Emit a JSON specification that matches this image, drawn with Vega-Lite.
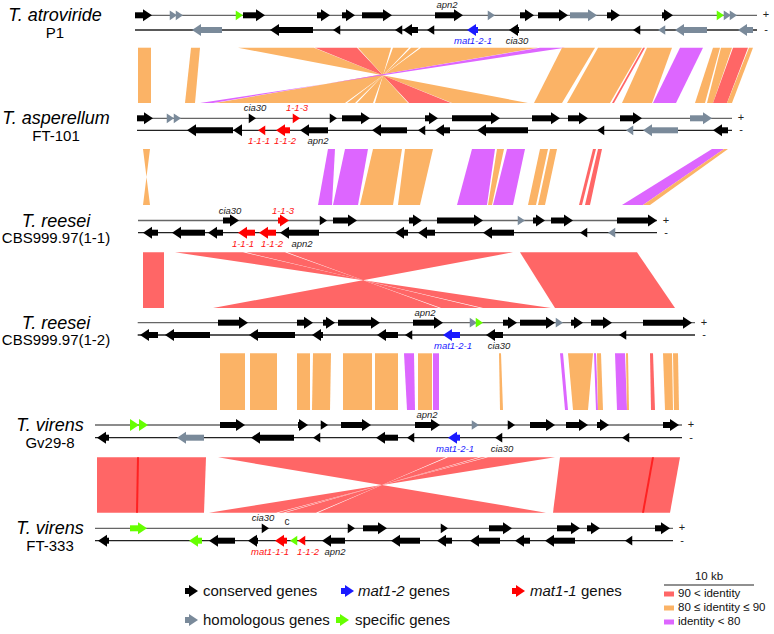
{
"$schema": "https://vega.github.io/schema/vega-lite/v6.json",
"width": 774, "height": 634,
"autosize": {"type": "fit", "contains": "padding"},
"padding": 0,
"background": "white",
"config": {"view": {"stroke": null}, "font": "Liberation Sans"},
"resolve": {"scale": {"color": "independent"}},
"datasets": {
"tracks": [
{"k":"1+","y":15.3,"sign":"+"},{"k":"1-","y":30,"sign":"-"},
{"k":"2+","y":118.3,"sign":"+"},{"k":"2-","y":130.3,"sign":"-"},
{"k":"3+","y":220.5,"sign":"+"},{"k":"3-","y":232.7,"sign":"-"},
{"k":"4+","y":322.7,"sign":"+"},{"k":"4-","y":335,"sign":"-"},
{"k":"5+","y":425,"sign":"+"},{"k":"5-","y":437.7,"sign":"-"},
{"k":"6+","y":528.3,"sign":"+"},{"k":"6-","y":540.7,"sign":"-"},
{"k":"L1","y":591},{"k":"L2","y":620},
{"k":"1t","y":47.7},{"k":"1b","y":103},
{"k":"2t","y":149},{"k":"2b","y":205},
{"k":"3t","y":252.3},{"k":"3b","y":308},
{"k":"4t","y":353.3},{"k":"4b","y":410},
{"k":"5t","y":457.3},{"k":"5b","y":512.7},
{"k":"I0","y":577},{"k":"SB","y":585},{"k":"I1","y":594},{"k":"I2","y":608},{"k":"I3","y":622}
],
"genomes": [
{"name":"T. atroviride","strain":"P1","nx":55,"kp":"1+","km":"1-","x0":135,"x1":757},
{"name":"T. asperellum","strain":"FT-101","nx":56,"kp":"2+","km":"2-","x0":137,"x1":732},
{"name":"T. reesei","strain":"CBS999.97(1-1)","nx":56,"kp":"3+","km":"3-","x0":138,"x1":657},
{"name":"T. reesei","strain":"CBS999.97(1-2)","nx":56,"kp":"4+","km":"4-","x0":137.7,"x1":695},
{"name":"T. virens","strain":"Gv29-8","nx":50,"kp":"5+","km":"5-","x0":95,"x1":682},
{"name":"T. virens","strain":"FT-333","nx":50,"kp":"6+","km":"6-","x0":95,"x1":673}
],
"genes": [
{"k":"1+","s":135,"e":152,"t":"c"},{"k":"1+","s":172,"e":177,"t":"h"},{"k":"1+","s":178,"e":183,"t":"h"},{"k":"1+","s":237,"e":243,"t":"s"},{"k":"1+","s":243,"e":265,"t":"c"},{"k":"1+","s":317,"e":330,"t":"c"},{"k":"1+","s":342,"e":355,"t":"c"},{"k":"1+","s":362,"e":392,"t":"c"},{"k":"1+","s":435,"e":463,"t":"c"},{"k":"1+","s":489,"e":495,"t":"h"},{"k":"1+","s":520,"e":534,"t":"c"},{"k":"1+","s":538,"e":568,"t":"c"},{"k":"1+","s":570,"e":597,"t":"h"},{"k":"1+","s":607,"e":620,"t":"c"},{"k":"1+","s":662,"e":673,"t":"c"},{"k":"1+","s":719,"e":724,"t":"s"},{"k":"1+","s":726,"e":731,"t":"h"},{"k":"1+","s":732,"e":737,"t":"h"},
{"k":"1-","s":192,"e":222,"t":"h"},{"k":"1-","s":270,"e":313,"t":"c"},{"k":"1-","s":333,"e":339,"t":"c"},{"k":"1-","s":395,"e":401,"t":"c"},{"k":"1-","s":403,"e":418,"t":"c"},{"k":"1-","s":427,"e":433,"t":"c"},{"k":"1-","s":467,"e":478,"t":"b"},{"k":"1-","s":509,"e":519,"t":"c"},{"k":"1-","s":633,"e":639,"t":"c"},{"k":"1-","s":658,"e":663,"t":"h"},{"k":"1-","s":675,"e":707,"t":"h"},{"k":"1-","s":738,"e":753,"t":"h"},
{"k":"2+","s":137,"e":153,"t":"c"},{"k":"2+","s":168,"e":174,"t":"h"},{"k":"2+","s":175,"e":181,"t":"h"},{"k":"2+","s":251,"e":256,"t":"c"},{"k":"2+","s":292,"e":300,"t":"m"},{"k":"2+","s":330,"e":337,"t":"c"},{"k":"2+","s":342,"e":370,"t":"c"},{"k":"2+","s":425,"e":438,"t":"c"},{"k":"2+","s":452,"e":500,"t":"c"},{"k":"2+","s":532,"e":560,"t":"c"},{"k":"2+","s":568,"e":588,"t":"c"},{"k":"2+","s":620,"e":642,"t":"c"},{"k":"2+","s":690,"e":712,"t":"h"},
{"k":"2-","s":187,"e":233,"t":"c"},{"k":"2-","s":233,"e":242,"t":"c"},{"k":"2-","s":258,"e":266,"t":"m"},{"k":"2-","s":276,"e":290,"t":"m"},{"k":"2-","s":300,"e":328,"t":"c"},{"k":"2-","s":372,"e":407,"t":"c"},{"k":"2-","s":418,"e":423,"t":"c"},{"k":"2-","s":435,"e":450,"t":"c"},{"k":"2-","s":477,"e":528,"t":"c"},{"k":"2-","s":597,"e":602,"t":"c"},{"k":"2-","s":626,"e":630,"t":"h"},{"k":"2-","s":643,"e":678,"t":"h"},{"k":"2-","s":713,"e":728,"t":"c"},
{"k":"3+","s":223,"e":239,"t":"c"},{"k":"3+","s":278,"e":289,"t":"m"},{"k":"3+","s":320,"e":327,"t":"c"},{"k":"3+","s":333,"e":357,"t":"c"},{"k":"3+","s":409,"e":422,"t":"c"},{"k":"3+","s":437,"e":483,"t":"c"},{"k":"3+","s":521,"e":525,"t":"h"},{"k":"3+","s":533,"e":545,"t":"c"},{"k":"3+","s":551,"e":573,"t":"c"},{"k":"3+","s":617,"e":657,"t":"c"},
{"k":"3-","s":143,"e":158,"t":"c"},{"k":"3-","s":172,"e":205,"t":"c"},{"k":"3-","s":208,"e":223,"t":"c"},{"k":"3-","s":238,"e":255,"t":"m"},{"k":"3-","s":259,"e":276,"t":"m"},{"k":"3-","s":280,"e":319,"t":"c"},{"k":"3-","s":395,"e":408,"t":"c"},{"k":"3-","s":418,"e":435,"t":"c"},{"k":"3-","s":483,"e":514,"t":"c"},{"k":"3-","s":580,"e":587,"t":"c"},{"k":"3-","s":608,"e":612,"t":"h"},
{"k":"4+","s":218,"e":248,"t":"c"},{"k":"4+","s":297,"e":313,"t":"c"},{"k":"4+","s":323,"e":335,"t":"c"},{"k":"4+","s":338,"e":380,"t":"c"},{"k":"4+","s":413,"e":443,"t":"c"},{"k":"4+","s":470,"e":477,"t":"h"},{"k":"4+","s":479,"e":483,"t":"s"},{"k":"4+","s":503,"e":517,"t":"c"},{"k":"4+","s":520,"e":555,"t":"c"},{"k":"4+","s":558,"e":563,"t":"h"},{"k":"4+","s":571,"e":583,"t":"c"},{"k":"4+","s":591,"e":612,"t":"c"},{"k":"4+","s":643,"e":692,"t":"c"},
{"k":"4-","s":140,"e":158,"t":"c"},{"k":"4-","s":165,"e":210,"t":"c"},{"k":"4-","s":249,"e":295,"t":"c"},{"k":"4-","s":312,"e":323,"t":"c"},{"k":"4-","s":377,"e":398,"t":"c"},{"k":"4-","s":405,"e":412,"t":"c"},{"k":"4-","s":443,"e":460,"t":"b"},{"k":"4-","s":486,"e":503,"t":"c"},{"k":"4-","s":619,"e":626,"t":"c"},
{"k":"5+","s":130,"e":139,"t":"s"},{"k":"5+","s":139,"e":148,"t":"s"},{"k":"5+","s":220,"e":245,"t":"c"},{"k":"5+","s":298,"e":308,"t":"c"},{"k":"5+","s":321,"e":328,"t":"c"},{"k":"5+","s":341,"e":371,"t":"c"},{"k":"5+","s":415,"e":440,"t":"c"},{"k":"5+","s":472,"e":479,"t":"h"},{"k":"5+","s":507,"e":515,"t":"c"},{"k":"5+","s":530,"e":555,"t":"c"},{"k":"5+","s":566,"e":588,"t":"c"},{"k":"5+","s":597,"e":609,"t":"c"},{"k":"5+","s":663,"e":679,"t":"c"},
{"k":"5-","s":97,"e":109,"t":"c"},{"k":"5-","s":177,"e":204,"t":"h"},{"k":"5-","s":251,"e":294,"t":"c"},{"k":"5-","s":313,"e":319,"t":"c"},{"k":"5-","s":376,"e":398,"t":"c"},{"k":"5-","s":407,"e":413,"t":"c"},{"k":"5-","s":448,"e":460,"t":"b"},{"k":"5-","s":495,"e":502,"t":"c"},{"k":"5-","s":622,"e":628,"t":"c"},
{"k":"6+","s":130,"e":147,"t":"s"},{"k":"6+","s":263,"e":269,"t":"c"},{"k":"6+","s":348,"e":355,"t":"c"},{"k":"6+","s":363,"e":387,"t":"c"},{"k":"6+","s":442,"e":448,"t":"c"},{"k":"6+","s":489,"e":512,"t":"c"},{"k":"6+","s":557,"e":580,"t":"c"},{"k":"6+","s":587,"e":600,"t":"c"},{"k":"6+","s":655,"e":670,"t":"c"},
{"k":"6-","s":98,"e":109,"t":"c"},{"k":"6-","s":189,"e":202,"t":"s"},{"k":"6-","s":209,"e":235,"t":"c"},{"k":"6-","s":248,"e":258,"t":"c"},{"k":"6-","s":275,"e":287,"t":"m"},{"k":"6-","s":290,"e":296,"t":"s"},{"k":"6-","s":298,"e":304,"t":"m"},{"k":"6-","s":322,"e":345,"t":"c"},{"k":"6-","s":391,"e":420,"t":"c"},{"k":"6-","s":437,"e":452,"t":"c"},{"k":"6-","s":470,"e":500,"t":"c"},{"k":"6-","s":515,"e":530,"t":"c"},{"k":"6-","s":545,"e":575,"t":"c"},{"k":"6-","s":625,"e":631,"t":"c"},
{"k":"L1","s":185,"e":198,"t":"c"},{"k":"L1","s":341,"e":354,"t":"b"},{"k":"L1","s":512,"e":525,"t":"m"},
{"k":"L2","s":185,"e":198,"t":"h"},{"k":"L2","s":336,"e":349,"t":"s"}
],
"labels": [
{"k":"1+","x":447,"text":"apn2","t":"c"},
{"k":"1-","x":473,"text":"mat1-2-1","t":"b"},{"k":"1-","x":517,"text":"cia30","t":"c"},
{"k":"2+","x":255,"text":"cia30","t":"c"},{"k":"2+","x":297,"text":"1-1-3","t":"m"},
{"k":"2-","x":259,"text":"1-1-1","t":"m"},{"k":"2-","x":285,"text":"1-1-2","t":"m"},{"k":"2-","x":318,"text":"apn2","t":"c"},
{"k":"3+","x":230,"text":"cia30","t":"c"},{"k":"3+","x":283,"text":"1-1-3","t":"m"},
{"k":"3-","x":243,"text":"1-1-1","t":"m"},{"k":"3-","x":272,"text":"1-1-2","t":"m"},{"k":"3-","x":302,"text":"apn2","t":"c"},
{"k":"4+","x":425,"text":"apn2","t":"c"},
{"k":"4-","x":453,"text":"mat1-2-1","t":"b"},{"k":"4-","x":499,"text":"cia30","t":"c"},
{"k":"5+","x":427,"text":"apn2","t":"c"},
{"k":"5-","x":455,"text":"mat1-2-1","t":"b"},{"k":"5-","x":502,"text":"cia30","t":"c"},
{"k":"6+","x":263,"text":"cia30","t":"c"},
{"k":"6-","x":270,"text":"mat1-1-1","t":"m"},{"k":"6-","x":308,"text":"1-1-2","t":"m"},{"k":"6-","x":335,"text":"apn2","t":"c"}
],
"plain": [
{"k":"6+","x":287,"text":"c"}
],
"syn": [
{"p":"a1","k":"1t","x":138,"x2":151,"c":"o"},{"p":"a1","k":"1b","x":138,"x2":151,"c":"o"},
{"p":"a2","k":"1t","x":191,"x2":200,"c":"o"},{"p":"a2","k":"1b","x":185,"x2":195,"c":"o"},
{"p":"a3","k":"1t","x":238,"x2":314,"c":"o"},{"p":"a3","k":"1b","x":528,"x2":452,"c":"o"},
{"p":"a4","k":"1t","x":315,"x2":357,"c":"r"},{"p":"a4","k":"1b","x":451,"x2":409,"c":"r"},
{"p":"a5","k":"1t","x":358,"x2":391,"c":"o"},{"p":"a5","k":"1b","x":408,"x2":375,"c":"o"},
{"p":"a6","k":"1t","x":393,"x2":409,"c":"o"},{"p":"a6","k":"1b","x":373,"x2":357,"c":"o"},
{"p":"a7","k":"1t","x":411,"x2":419,"c":"o"},{"p":"a7","k":"1b","x":355,"x2":347,"c":"o"},
{"p":"a8","k":"1t","x":421,"x2":538,"c":"o"},{"p":"a8","k":"1b","x":345,"x2":215,"c":"o"},
{"p":"a9","k":"1t","x":540,"x2":565,"c":"p"},{"p":"a9","k":"1b","x":213,"x2":200,"c":"p"},
{"p":"a10","k":"1t","x":562,"x2":595,"c":"o"},{"p":"a10","k":"1b","x":534,"x2":562,"c":"o"},
{"p":"a11","k":"1t","x":598,"x2":642,"c":"o"},{"p":"a11","k":"1b","x":567,"x2":610,"c":"o"},
{"p":"a12","k":"1t","x":643,"x2":645,"c":"r"},{"p":"a12","k":"1b","x":612,"x2":614,"c":"r"},
{"p":"a13","k":"1t","x":647,"x2":672,"c":"o"},{"p":"a13","k":"1b","x":622,"x2":652,"c":"o"},
{"p":"a14","k":"1t","x":680,"x2":703,"c":"p"},{"p":"a14","k":"1b","x":653,"x2":676,"c":"p"},
{"p":"a15","k":"1t","x":713,"x2":720,"c":"o"},{"p":"a15","k":"1b","x":695,"x2":705,"c":"o"},
{"p":"a16","k":"1t","x":721,"x2":732,"c":"o"},{"p":"a16","k":"1b","x":707,"x2":713,"c":"o"},
{"p":"a17","k":"1t","x":733,"x2":748,"c":"r"},{"p":"a17","k":"1b","x":713,"x2":727,"c":"r"},
{"p":"a18","k":"1t","x":749,"x2":753,"c":"o"},{"p":"a18","k":"1b","x":727,"x2":732,"c":"o"},
{"p":"b1","k":"2t","x":143,"x2":150,"c":"o"},{"p":"b1","k":"2b","x":150,"x2":143,"c":"o"},
{"p":"b2","k":"2t","x":328,"x2":335,"c":"p"},{"p":"b2","k":"2b","x":318,"x2":332,"c":"p"},
{"p":"b3","k":"2t","x":345,"x2":368,"c":"p"},{"p":"b3","k":"2b","x":333,"x2":358,"c":"p"},
{"p":"b4","k":"2t","x":373,"x2":402,"c":"o"},{"p":"b4","k":"2b","x":360,"x2":393,"c":"o"},
{"p":"b5","k":"2t","x":405,"x2":433,"c":"o"},{"p":"b5","k":"2b","x":398,"x2":420,"c":"o"},
{"p":"b6","k":"2t","x":472,"x2":495,"c":"p"},{"p":"b6","k":"2b","x":457,"x2":487,"c":"p"},
{"p":"b7","k":"2t","x":497,"x2":504,"c":"o"},{"p":"b7","k":"2b","x":488,"x2":492,"c":"o"},
{"p":"b8","k":"2t","x":507,"x2":525,"c":"p"},{"p":"b8","k":"2b","x":493,"x2":513,"c":"p"},
{"p":"b9","k":"2t","x":540,"x2":548,"c":"o"},{"p":"b9","k":"2b","x":528,"x2":536,"c":"o"},
{"p":"b10","k":"2t","x":550,"x2":557,"c":"o"},{"p":"b10","k":"2b","x":538,"x2":545,"c":"o"},
{"p":"b11","k":"2t","x":593,"x2":596,"c":"r"},{"p":"b11","k":"2b","x":579,"x2":582,"c":"r"},
{"p":"b12","k":"2t","x":598,"x2":602,"c":"r"},{"p":"b12","k":"2b","x":585,"x2":590,"c":"r"},
{"p":"b13","k":"2t","x":712,"x2":724,"c":"p"},{"p":"b13","k":"2b","x":622,"x2":643,"c":"p"},
{"p":"b14","k":"2t","x":724,"x2":728,"c":"o"},{"p":"b14","k":"2b","x":643,"x2":650,"c":"o"},
{"p":"c1","k":"3t","x":143,"x2":164,"c":"r"},{"p":"c1","k":"3b","x":143,"x2":164,"c":"r"},
{"p":"c2","k":"3t","x":175,"x2":243,"c":"r"},{"p":"c2","k":"3b","x":551,"x2":483,"c":"r"},
{"p":"c3","k":"3t","x":246,"x2":285,"c":"r"},{"p":"c3","k":"3b","x":480,"x2":441,"c":"r"},
{"p":"c4","k":"3t","x":287,"x2":513,"c":"r"},{"p":"c4","k":"3b","x":439,"x2":213,"c":"r"},
{"p":"c5","k":"3t","x":520,"x2":637,"c":"r"},{"p":"c5","k":"3b","x":555,"x2":675,"c":"r"},
{"p":"d1","k":"4t","x":220,"x2":245,"c":"o"},{"p":"d1","k":"4b","x":220,"x2":245,"c":"o"},
{"p":"d2","k":"4t","x":250,"x2":277,"c":"o"},{"p":"d2","k":"4b","x":250,"x2":277,"c":"o"},
{"p":"d3","k":"4t","x":297,"x2":310,"c":"o"},{"p":"d3","k":"4b","x":297,"x2":310,"c":"o"},
{"p":"d4","k":"4t","x":313,"x2":331,"c":"o"},{"p":"d4","k":"4b","x":312,"x2":330,"c":"o"},
{"p":"d5","k":"4t","x":343,"x2":372,"c":"o"},{"p":"d5","k":"4b","x":343,"x2":372,"c":"o"},
{"p":"d6","k":"4t","x":375,"x2":398,"c":"o"},{"p":"d6","k":"4b","x":375,"x2":398,"c":"o"},
{"p":"d7","k":"4t","x":404,"x2":414,"c":"p"},{"p":"d7","k":"4b","x":407,"x2":415,"c":"p"},
{"p":"d8","k":"4t","x":418,"x2":432,"c":"o"},{"p":"d8","k":"4b","x":418,"x2":432,"c":"o"},
{"p":"d9","k":"4t","x":433,"x2":439,"c":"p"},{"p":"d9","k":"4b","x":433,"x2":439,"c":"p"},
{"p":"d10","k":"4t","x":499,"x2":501,"c":"o"},{"p":"d10","k":"4b","x":500,"x2":503,"c":"o"},
{"p":"d11","k":"4t","x":560,"x2":563,"c":"p"},{"p":"d11","k":"4b","x":565,"x2":568,"c":"p"},
{"p":"d12","k":"4t","x":568,"x2":593,"c":"o"},{"p":"d12","k":"4b","x":573,"x2":588,"c":"o"},
{"p":"d13","k":"4t","x":594,"x2":596,"c":"p"},{"p":"d13","k":"4b","x":596,"x2":598,"c":"p"},
{"p":"d14","k":"4t","x":597,"x2":601,"c":"o"},{"p":"d14","k":"4b","x":598,"x2":603,"c":"o"},
{"p":"d15","k":"4t","x":615,"x2":625,"c":"p"},{"p":"d15","k":"4b","x":617,"x2":627,"c":"p"},
{"p":"d16","k":"4t","x":626,"x2":628,"c":"o"},{"p":"d16","k":"4b","x":627,"x2":629,"c":"o"},
{"p":"d17","k":"4t","x":650,"x2":653,"c":"r"},{"p":"d17","k":"4b","x":651,"x2":655,"c":"r"},
{"p":"d18","k":"4t","x":663,"x2":672,"c":"o"},{"p":"d18","k":"4b","x":665,"x2":673,"c":"o"},
{"p":"d19","k":"4t","x":673,"x2":678,"c":"o"},{"p":"d19","k":"4b","x":674,"x2":679,"c":"o"},
{"p":"e1","k":"5t","x":97,"x2":206,"c":"r"},{"p":"e1","k":"5b","x":97,"x2":204,"c":"r"},
{"p":"e2","k":"5t","x":137,"x2":139,"c":"d"},{"p":"e2","k":"5b","x":136,"x2":138,"c":"d"},
{"p":"e3","k":"5t","x":218,"x2":446,"c":"r"},{"p":"e3","k":"5b","x":546,"x2":318,"c":"r"},
{"p":"e4","k":"5t","x":448,"x2":479,"c":"r"},{"p":"e4","k":"5b","x":316,"x2":285,"c":"r"},
{"p":"e5","k":"5t","x":481,"x2":486,"c":"r"},{"p":"e5","k":"5b","x":283,"x2":278,"c":"r"},
{"p":"e6","k":"5t","x":488,"x2":555,"c":"r"},{"p":"e6","k":"5b","x":276,"x2":209,"c":"r"},
{"p":"e7","k":"5t","x":560,"x2":680,"c":"r"},{"p":"e7","k":"5b","x":553,"x2":670,"c":"r"},
{"p":"e8","k":"5t","x":652,"x2":654,"c":"d"},{"p":"e8","k":"5b","x":642,"x2":644,"c":"d"}
],
"legtext": [
{"k":"L1","x":203,"text":"conserved genes","it":false},
{"k":"L1","x":358,"text":"mat1-2","it":true},
{"k":"L1","x":409,"text":"genes","it":false},
{"k":"L1","x":530,"text":"mat1-1","it":true},
{"k":"L1","x":581,"text":"genes","it":false},
{"k":"L2","x":203,"text":"homologous genes","it":false},
{"k":"L2","x":355,"text":"specific genes","it":false}
],
"idleg": [
{"k":"I1","c":"r","label":"90 < identity","x0":664,"x1":674},
{"k":"I2","c":"o","label":"80 ≤ identity ≤ 90","x0":664,"x1":674},
{"k":"I3","c":"p","label":"identity < 80","x0":664,"x1":674}
],
"scalebar": [
{"k":"SB","kt":"I0","x0":664,"x1":754,"xm":709,"label":"10 kb"}
]
},
"layer": [
{
"data": {"name": "syn"},
"transform": [{"lookup": "k", "from": {"data": {"name": "tracks"}, "key": "k", "fields": ["y"]}}],
"mark": {"type": "area", "orient": "horizontal", "opacity": 1},
"encoding": {
"y": {"field": "y", "type": "quantitative", "scale": {"domain": [0, 634], "nice": false, "zero": false, "reverse": true}, "axis": null},
"x": {"field": "x", "type": "quantitative", "stack": null, "scale": {"domain": [0, 774], "nice": false, "zero": false}, "axis": null},
"x2": {"field": "x2"},
"color": {"field": "c", "type": "nominal", "scale": {"domain": ["r", "o", "p", "d"], "range": ["#ff6666", "#fbb366", "#dd66ff", "#ff2222"]}, "legend": null},
"detail": {"field": "p", "type": "nominal"}
}
},
{
"data": {"name": "genomes"},
"transform": [{"fold": ["kp", "km"], "as": ["which", "k"]}, {"lookup": "k", "from": {"data": {"name": "tracks"}, "key": "k", "fields": ["y", "sign"]}}],
"mark": {"type": "rule", "strokeWidth": 1.3},
"encoding": {
"x": {"field": "x0", "type": "quantitative", "scale": {"domain": [0, 774], "nice": false, "zero": false}, "axis": null},
"x2": {"field": "x1"},
"y": {"field": "y", "type": "quantitative", "scale": {"domain": [0, 634], "nice": false, "zero": false, "reverse": true}, "axis": null},
"color": {"condition": {"test": "datum.which == 'kp'", "value": "#666666"}, "value": "#222222"}
}
},
{
"data": {"name": "genomes"},
"transform": [{"fold": ["kp", "km"], "as": ["which", "k"]}, {"lookup": "k", "from": {"data": {"name": "tracks"}, "key": "k", "fields": ["y", "sign"]}}],
"mark": {"type": "text", "dx": 9, "fontSize": 11, "align": "center", "baseline": "middle", "color": "#222222"},
"encoding": {
"x": {"field": "x1", "type": "quantitative", "scale": {"domain": [0, 774], "nice": false, "zero": false}, "axis": null},
"y": {"field": "y", "type": "quantitative", "scale": {"domain": [0, 634], "nice": false, "zero": false, "reverse": true}, "axis": null},
"text": {"field": "sign"}
}
},
{
"data": {"name": "genes"},
"transform": [{"lookup": "k", "from": {"data": {"name": "tracks"}, "key": "k", "fields": ["y"]}}, {"filter": "datum.k[1] != '-' && datum.e - datum.s > 9"}],
"mark": {"type": "rule", "strokeWidth": 6, "strokeCap": "butt", "x2Offset": -8},
"encoding": {
"x": {"field": "s", "type": "quantitative", "scale": {"domain": [0, 774], "nice": false, "zero": false}, "axis": null},
"x2": {"field": "e"},
"y": {"field": "y", "type": "quantitative", "scale": {"domain": [0, 634], "nice": false, "zero": false, "reverse": true}, "axis": null},
"color": {"field": "t", "type": "nominal", "scale": {"domain": ["c", "b", "m", "h", "s"], "range": ["#000000", "#1a1aff", "#ff0000", "#7a8a9a", "#66ff00"]}, "legend": null}
}
},
{
"data": {"name": "genes"},
"transform": [{"lookup": "k", "from": {"data": {"name": "tracks"}, "key": "k", "fields": ["y"]}}, {"filter": "datum.k[1] == '-' && datum.e - datum.s > 9"}],
"mark": {"type": "rule", "strokeWidth": 6, "strokeCap": "butt", "xOffset": 8},
"encoding": {
"x": {"field": "s", "type": "quantitative", "scale": {"domain": [0, 774], "nice": false, "zero": false}, "axis": null},
"x2": {"field": "e"},
"y": {"field": "y", "type": "quantitative", "scale": {"domain": [0, 634], "nice": false, "zero": false, "reverse": true}, "axis": null},
"color": {"field": "t", "type": "nominal", "scale": {"domain": ["c", "b", "m", "h", "s"], "range": ["#000000", "#1a1aff", "#ff0000", "#7a8a9a", "#66ff00"]}, "legend": null}
}
},
{
"data": {"name": "genes"},
"transform": [{"lookup": "k", "from": {"data": {"name": "tracks"}, "key": "k", "fields": ["y"]}}, {"filter": "datum.k[1] != '-'"}],
"mark": {"type": "point", "shape": "M-9,-6L0,0L-9,6Z", "filled": true, "opacity": 1, "strokeWidth": 0},
"encoding": {
"x": {"field": "e", "type": "quantitative", "scale": {"domain": [0, 774], "nice": false, "zero": false}, "axis": null},
"y": {"field": "y", "type": "quantitative", "scale": {"domain": [0, 634], "nice": false, "zero": false, "reverse": true}, "axis": null},
"size": {"condition": {"test": "datum.e - datum.s < 9", "value": 2.6}, "value": 4},
"color": {"field": "t", "type": "nominal", "scale": {"domain": ["c", "b", "m", "h", "s"], "range": ["#000000", "#1a1aff", "#ff0000", "#7a8a9a", "#66ff00"]}, "legend": null}
}
},
{
"data": {"name": "genes"},
"transform": [{"lookup": "k", "from": {"data": {"name": "tracks"}, "key": "k", "fields": ["y"]}}, {"filter": "datum.k[1] == '-'"}],
"mark": {"type": "point", "shape": "M9,-6L0,0L9,6Z", "filled": true, "opacity": 1, "strokeWidth": 0},
"encoding": {
"x": {"field": "s", "type": "quantitative", "scale": {"domain": [0, 774], "nice": false, "zero": false}, "axis": null},
"y": {"field": "y", "type": "quantitative", "scale": {"domain": [0, 634], "nice": false, "zero": false, "reverse": true}, "axis": null},
"size": {"condition": {"test": "datum.e - datum.s < 9", "value": 2.6}, "value": 4},
"color": {"field": "t", "type": "nominal", "scale": {"domain": ["c", "b", "m", "h", "s"], "range": ["#000000", "#1a1aff", "#ff0000", "#7a8a9a", "#66ff00"]}, "legend": null}
}
},
{
"data": {"name": "genomes"},
"transform": [{"lookup": "kp", "from": {"data": {"name": "tracks"}, "key": "k", "fields": ["y"]}}],
"mark": {"type": "text", "fontSize": 18, "fontStyle": "italic", "align": "center", "baseline": "middle", "dy": 1, "color": "#000000"},
"encoding": {
"x": {"field": "nx", "type": "quantitative", "scale": {"domain": [0, 774], "nice": false, "zero": false}, "axis": null},
"y": {"field": "y", "type": "quantitative", "scale": {"domain": [0, 634], "nice": false, "zero": false, "reverse": true}, "axis": null},
"text": {"field": "name"}
}
},
{
"data": {"name": "genomes"},
"transform": [{"lookup": "kp", "from": {"data": {"name": "tracks"}, "key": "k", "fields": ["y"]}}],
"mark": {"type": "text", "fontSize": 15, "align": "center", "baseline": "middle", "dy": 17.5, "color": "#000000"},
"encoding": {
"x": {"field": "nx", "type": "quantitative", "scale": {"domain": [0, 774], "nice": false, "zero": false}, "axis": null},
"y": {"field": "y", "type": "quantitative", "scale": {"domain": [0, 634], "nice": false, "zero": false, "reverse": true}, "axis": null},
"text": {"field": "strain"}
}
},
{
"data": {"name": "labels"},
"transform": [{"lookup": "k", "from": {"data": {"name": "tracks"}, "key": "k", "fields": ["y"]}}, {"filter": "datum.k[1] == '+'"}],
"mark": {"type": "text", "fontSize": 9.5, "fontStyle": "italic", "align": "center", "baseline": "middle", "dy": -10},
"encoding": {
"x": {"field": "x", "type": "quantitative", "scale": {"domain": [0, 774], "nice": false, "zero": false}, "axis": null},
"y": {"field": "y", "type": "quantitative", "scale": {"domain": [0, 634], "nice": false, "zero": false, "reverse": true}, "axis": null},
"text": {"field": "text"},
"color": {"field": "t", "type": "nominal", "scale": {"domain": ["c", "b", "m"], "range": ["#222222", "#1a1aff", "#ff1111"]}, "legend": null}
}
},
{
"data": {"name": "labels"},
"transform": [{"lookup": "k", "from": {"data": {"name": "tracks"}, "key": "k", "fields": ["y"]}}, {"filter": "datum.k[1] == '-'"}],
"mark": {"type": "text", "fontSize": 9.5, "fontStyle": "italic", "align": "center", "baseline": "middle", "dy": 11},
"encoding": {
"x": {"field": "x", "type": "quantitative", "scale": {"domain": [0, 774], "nice": false, "zero": false}, "axis": null},
"y": {"field": "y", "type": "quantitative", "scale": {"domain": [0, 634], "nice": false, "zero": false, "reverse": true}, "axis": null},
"text": {"field": "text"},
"color": {"field": "t", "type": "nominal", "scale": {"domain": ["c", "b", "m"], "range": ["#222222", "#1a1aff", "#ff1111"]}, "legend": null}
}
},
{
"data": {"name": "plain"},
"transform": [{"lookup": "k", "from": {"data": {"name": "tracks"}, "key": "k", "fields": ["y"]}}],
"mark": {"type": "text", "fontSize": 10, "align": "center", "baseline": "middle", "dy": -6, "color": "#222222"},
"encoding": {
"x": {"field": "x", "type": "quantitative", "scale": {"domain": [0, 774], "nice": false, "zero": false}, "axis": null},
"y": {"field": "y", "type": "quantitative", "scale": {"domain": [0, 634], "nice": false, "zero": false, "reverse": true}, "axis": null},
"text": {"field": "text"}
}
},
{
"data": {"name": "legtext"},
"transform": [{"lookup": "k", "from": {"data": {"name": "tracks"}, "key": "k", "fields": ["y"]}}, {"filter": "!datum.it"}],
"mark": {"type": "text", "fontSize": 15, "align": "left", "baseline": "middle", "color": "#111111"},
"encoding": {
"x": {"field": "x", "type": "quantitative", "scale": {"domain": [0, 774], "nice": false, "zero": false}, "axis": null},
"y": {"field": "y", "type": "quantitative", "scale": {"domain": [0, 634], "nice": false, "zero": false, "reverse": true}, "axis": null},
"text": {"field": "text"}
}
},
{
"data": {"name": "legtext"},
"transform": [{"lookup": "k", "from": {"data": {"name": "tracks"}, "key": "k", "fields": ["y"]}}, {"filter": "datum.it"}],
"mark": {"type": "text", "fontSize": 15, "fontStyle": "italic", "align": "left", "baseline": "middle", "color": "#111111"},
"encoding": {
"x": {"field": "x", "type": "quantitative", "scale": {"domain": [0, 774], "nice": false, "zero": false}, "axis": null},
"y": {"field": "y", "type": "quantitative", "scale": {"domain": [0, 634], "nice": false, "zero": false, "reverse": true}, "axis": null},
"text": {"field": "text"}
}
},
{
"data": {"name": "idleg"},
"transform": [{"lookup": "k", "from": {"data": {"name": "tracks"}, "key": "k", "fields": ["y"]}}],
"mark": {"type": "rule", "strokeWidth": 5, "strokeCap": "butt"},
"encoding": {
"x": {"field": "x0", "type": "quantitative", "scale": {"domain": [0, 774], "nice": false, "zero": false}, "axis": null},
"x2": {"field": "x1"},
"y": {"field": "y", "type": "quantitative", "scale": {"domain": [0, 634], "nice": false, "zero": false, "reverse": true}, "axis": null},
"color": {"field": "c", "type": "nominal", "scale": {"domain": ["r", "o", "p"], "range": ["#ff6666", "#fbb366", "#dd66ff"]}, "legend": null}
}
},
{
"data": {"name": "idleg"},
"transform": [{"lookup": "k", "from": {"data": {"name": "tracks"}, "key": "k", "fields": ["y"]}}],
"mark": {"type": "text", "fontSize": 11.5, "align": "left", "baseline": "middle", "dx": 4, "color": "#111111"},
"encoding": {
"x": {"field": "x1", "type": "quantitative", "scale": {"domain": [0, 774], "nice": false, "zero": false}, "axis": null},
"y": {"field": "y", "type": "quantitative", "scale": {"domain": [0, 634], "nice": false, "zero": false, "reverse": true}, "axis": null},
"text": {"field": "label"}
}
},
{
"data": {"name": "scalebar"},
"transform": [{"lookup": "k", "from": {"data": {"name": "tracks"}, "key": "k", "fields": ["y"]}}],
"mark": {"type": "rule", "strokeWidth": 1.2, "color": "#222222"},
"encoding": {
"x": {"field": "x0", "type": "quantitative", "scale": {"domain": [0, 774], "nice": false, "zero": false}, "axis": null},
"x2": {"field": "x1"},
"y": {"field": "y", "type": "quantitative", "scale": {"domain": [0, 634], "nice": false, "zero": false, "reverse": true}, "axis": null}
}
},
{
"data": {"name": "scalebar"},
"transform": [{"lookup": "kt", "from": {"data": {"name": "tracks"}, "key": "k", "fields": ["y"]}}],
"mark": {"type": "text", "fontSize": 11.5, "align": "center", "baseline": "middle", "color": "#111111"},
"encoding": {
"x": {"field": "xm", "type": "quantitative", "scale": {"domain": [0, 774], "nice": false, "zero": false}, "axis": null},
"y": {"field": "y", "type": "quantitative", "scale": {"domain": [0, 634], "nice": false, "zero": false, "reverse": true}, "axis": null},
"text": {"field": "label"}
}
}
]
}
